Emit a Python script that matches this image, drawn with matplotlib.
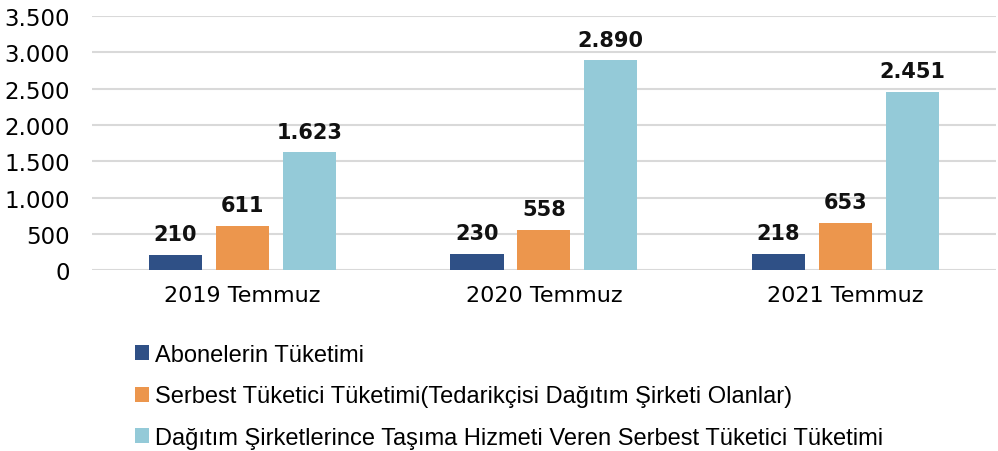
import numpy as np
import matplotlib.pyplot as plt

categories = ['2019 Temmuz', '2020 Temmuz', '2021 Temmuz']
abone = [210, 230, 218]
serbest = [611, 558, 653]
dagitim = [1623, 2890, 2451]
series_names = ['Abonelerin Tüketimi',
                'Serbest Tüketici Tüketimi(Tedarikçisi Dağıtım Şirketi Olanlar)',
                'Dağıtım Şirketlerince Taşıma Hizmeti Veren Serbest Tüketici Tüketimi']
colors = ['#2F5086', '#EC964D', '#94CAD8']

def fmt(v):
    return f'{v:,}'.replace(',', '.')

fig = plt.figure(figsize=(9.98, 4.52), dpi=100)
ax = fig.add_axes([0.092, 0.40, 0.906, 0.562])

x = np.arange(len(categories))
w = 0.176
step = 0.222
for i, (vals, name, c) in enumerate(zip([abone, serbest, dagitim], series_names, colors)):
    bars = ax.bar(x + (i - 1) * step, vals, w, color=c, label=name, zorder=3)
    for b, v in zip(bars, vals):
        ax.text(b.get_x() + b.get_width() / 2, v + 150, fmt(v), ha='center', va='bottom',
                fontsize=15, fontweight='semibold', color='#111111', family='DejaVu Sans')

ax.set_xlim(-0.5, 2.5)
ax.set_ylim(0, 3500)
ax.set_yticks(np.arange(0, 3501, 500))
ax.set_yticklabels([fmt(v) for v in range(0, 3501, 500)], fontsize=16.5, family='DejaVu Sans')
ax.set_xticks(x)
ax.set_xticklabels(categories, fontsize=16, family='DejaVu Sans')
ax.tick_params(length=0, pad=16)
ax.tick_params(axis='x', pad=11)
ax.grid(axis='y', color='#D9D9D9', lw=1.5, zorder=0)
for s in ax.spines.values():
    s.set_visible(False)

fig.legend(loc='upper left', bbox_to_anchor=(0.126, 0.258), frameon=False,
           prop={'family': 'Liberation Sans', 'size': 17}, handlelength=0.6,
           handleheight=0.6, handletextpad=0.25, labelspacing=0.83, borderaxespad=0)

fig.savefig('out.png', dpi=100)
